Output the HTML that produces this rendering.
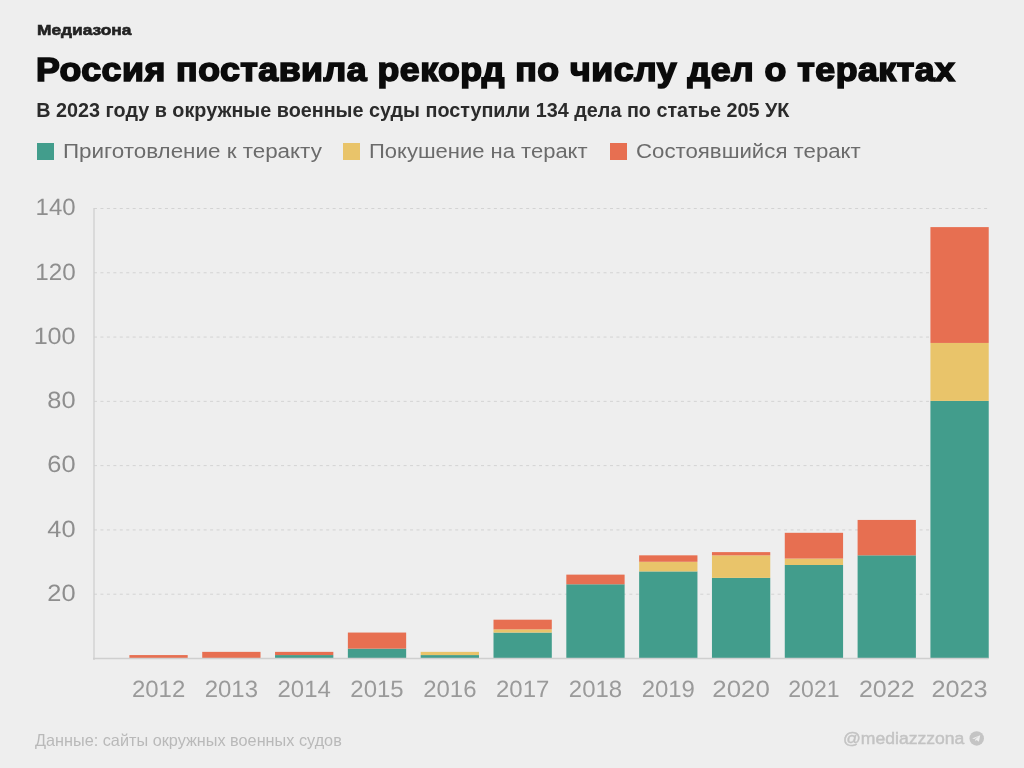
<!DOCTYPE html>
<html lang="ru"><head><meta charset="utf-8"><title>Медиазона</title>
<style>
html,body{margin:0;padding:0;}
body{width:1024px;height:768px;background:#eeeeee;position:relative;overflow:hidden;font-family:"Liberation Sans",sans-serif;}
.abs{position:absolute;white-space:nowrap;line-height:1;transform-origin:0 50%;}
#brand{left:36.9px;top:21.88px;font-size:15.5px;transform:scaleX(1.118);letter-spacing:0px;font-weight:700;color:#222;-webkit-text-stroke:0.6px #222;}
#title{left:36.0px;top:52.70px;font-size:33.2px;transform:scaleX(1.0762);letter-spacing:0.45px;font-weight:700;color:#0b0b0b;-webkit-text-stroke:1.6px #0b0b0b;}
#sub{left:36.3px;top:101.14px;font-size:19.8px;transform:scaleX(1.0);letter-spacing:0px;font-weight:700;color:#2b2b2b;}
.lg{color:#6b6b6b;}
#l1{left:62.8px;top:141.47px;font-size:20px;transform:scaleX(1.12);letter-spacing:0px;}
#l2{left:369px;top:141.47px;font-size:20px;transform:scaleX(1.1);letter-spacing:0px;}
#l3{left:635.6px;top:141.47px;font-size:20px;transform:scaleX(1.111);letter-spacing:0px;}
.sq{position:absolute;top:143px;width:17px;height:17px;}
#src{left:35px;top:731.93px;font-size:16.5px;transform:scaleX(0.985);letter-spacing:0px;color:#b9b9b9;}
#tg{left:843.4px;top:730.59px;font-size:16.9px;transform:scaleX(1.04);letter-spacing:0px;color:#c3c3c3;-webkit-text-stroke:0.45px #c3c3c3;}
svg{position:absolute;left:0;top:0;}
.ax{text-rendering:geometricPrecision;font-family:"Liberation Sans",sans-serif;font-size:23.5px;fill:#8e8e8e;}
.xl{fill:#9a9a9a;}
</style></head><body>
<svg width="1024" height="768" viewBox="0 0 1024 768">
<line x1="94" y1="594.21" x2="988" y2="594.21" stroke="#d3d3d3" stroke-width="1" stroke-dasharray="3 3.45"/>
<line x1="94" y1="529.93" x2="988" y2="529.93" stroke="#d3d3d3" stroke-width="1" stroke-dasharray="3 3.45"/>
<line x1="94" y1="465.64" x2="988" y2="465.64" stroke="#d3d3d3" stroke-width="1" stroke-dasharray="3 3.45"/>
<line x1="94" y1="401.36" x2="988" y2="401.36" stroke="#d3d3d3" stroke-width="1" stroke-dasharray="3 3.45"/>
<line x1="94" y1="337.07" x2="988" y2="337.07" stroke="#d3d3d3" stroke-width="1" stroke-dasharray="3 3.45"/>
<line x1="94" y1="272.79" x2="988" y2="272.79" stroke="#d3d3d3" stroke-width="1" stroke-dasharray="3 3.45"/>
<line x1="94" y1="208.50" x2="988" y2="208.50" stroke="#d3d3d3" stroke-width="1" stroke-dasharray="3 3.45"/>
<rect x="129.40" y="655.08" width="58.3" height="3.22" fill="#e76f51"/>
<rect x="202.22" y="651.86" width="58.3" height="6.44" fill="#e76f51"/>
<rect x="275.04" y="655.08" width="58.3" height="3.22" fill="#429d8c"/>
<rect x="275.04" y="651.86" width="58.3" height="3.22" fill="#e76f51"/>
<rect x="347.86" y="648.65" width="58.3" height="9.65" fill="#429d8c"/>
<rect x="347.86" y="632.56" width="58.3" height="16.09" fill="#e76f51"/>
<rect x="420.68" y="655.08" width="58.3" height="3.22" fill="#429d8c"/>
<rect x="420.68" y="651.86" width="58.3" height="3.22" fill="#e9c46a"/>
<rect x="493.50" y="632.56" width="58.3" height="25.74" fill="#429d8c"/>
<rect x="493.50" y="629.34" width="58.3" height="3.22" fill="#e9c46a"/>
<rect x="493.50" y="619.69" width="58.3" height="9.65" fill="#e76f51"/>
<rect x="566.32" y="584.29" width="58.3" height="74.01" fill="#429d8c"/>
<rect x="566.32" y="574.63" width="58.3" height="9.65" fill="#e76f51"/>
<rect x="639.14" y="571.42" width="58.3" height="86.88" fill="#429d8c"/>
<rect x="639.14" y="561.76" width="58.3" height="9.65" fill="#e9c46a"/>
<rect x="639.14" y="555.33" width="58.3" height="6.44" fill="#e76f51"/>
<rect x="711.96" y="577.85" width="58.3" height="80.45" fill="#429d8c"/>
<rect x="711.96" y="555.33" width="58.3" height="22.53" fill="#e9c46a"/>
<rect x="711.96" y="552.11" width="58.3" height="3.22" fill="#e76f51"/>
<rect x="784.78" y="564.98" width="58.3" height="93.32" fill="#429d8c"/>
<rect x="784.78" y="558.55" width="58.3" height="6.44" fill="#e9c46a"/>
<rect x="784.78" y="532.80" width="58.3" height="25.74" fill="#e76f51"/>
<rect x="857.60" y="555.33" width="58.3" height="102.97" fill="#429d8c"/>
<rect x="857.60" y="519.93" width="58.3" height="35.40" fill="#e76f51"/>
<rect x="930.42" y="400.87" width="58.3" height="257.43" fill="#429d8c"/>
<rect x="930.42" y="342.95" width="58.3" height="57.92" fill="#e9c46a"/>
<rect x="930.42" y="227.10" width="58.3" height="115.84" fill="#e76f51"/>
<line x1="94" y1="208" x2="94" y2="660" stroke="#cfcfcf" stroke-width="1.3"/>
<line x1="93" y1="658.5" x2="988.5" y2="658.5" stroke="#cfcfcf" stroke-width="1.3"/>
<text transform="translate(75.6,601.01) scale(1.08,1)" text-anchor="end" class="ax">20</text>
<text transform="translate(75.6,536.73) scale(1.08,1)" text-anchor="end" class="ax">40</text>
<text transform="translate(75.6,472.44) scale(1.08,1)" text-anchor="end" class="ax">60</text>
<text transform="translate(75.6,408.16) scale(1.08,1)" text-anchor="end" class="ax">80</text>
<text transform="translate(75.6,343.87) scale(1.07,1)" text-anchor="end" class="ax">100</text>
<text transform="translate(75.6,279.59) scale(1.03,1)" text-anchor="end" class="ax">120</text>
<text transform="translate(75.6,215.30) scale(1.02,1)" text-anchor="end" class="ax">140</text>
<text transform="translate(158.55,697.2) scale(1.02,1)" text-anchor="middle" class="ax xl">2012</text>
<text transform="translate(231.37,697.2) scale(1.02,1)" text-anchor="middle" class="ax xl">2013</text>
<text transform="translate(304.19,697.2) scale(1.02,1)" text-anchor="middle" class="ax xl">2014</text>
<text transform="translate(377.01,697.2) scale(1.02,1)" text-anchor="middle" class="ax xl">2015</text>
<text transform="translate(449.83,697.2) scale(1.02,1)" text-anchor="middle" class="ax xl">2016</text>
<text transform="translate(522.65,697.2) scale(1.02,1)" text-anchor="middle" class="ax xl">2017</text>
<text transform="translate(595.47,697.2) scale(1.02,1)" text-anchor="middle" class="ax xl">2018</text>
<text transform="translate(668.29,697.2) scale(1.02,1)" text-anchor="middle" class="ax xl">2019</text>
<text transform="translate(741.11,697.2) scale(1.1,1)" text-anchor="middle" class="ax xl">2020</text>
<text transform="translate(813.93,697.2) scale(0.98,1)" text-anchor="middle" class="ax xl">2021</text>
<text transform="translate(886.75,697.2) scale(1.065,1)" text-anchor="middle" class="ax xl">2022</text>
<text transform="translate(959.57,697.2) scale(1.075,1)" text-anchor="middle" class="ax xl">2023</text>
<g transform="translate(976.7,738.4)"><circle r="7.25" fill="#c4c4c4"/><path d="M-4.6 0 L3.5 -3.2 L2.2 3.4 L-0.1 1.7 L-1.3 2.9 L-1.4 0.9 L2.1 -2.2 L-2.4 0.7 Z" fill="#eeeeee"/></g>
</svg>
<div id="brand" class="abs">Медиазона</div>
<div id="title" class="abs">Россия поставила рекорд по числу дел о терактах</div>
<div id="sub" class="abs">В 2023 году в окружные военные суды поступили 134 дела по статье 205 УК</div>
<div class="sq" style="left:37.3px;background:#429d8c"></div><div id="l1" class="abs lg">Приготовление к теракту</div>
<div class="sq" style="left:343.3px;background:#e9c46a"></div><div id="l2" class="abs lg">Покушение на теракт</div>
<div class="sq" style="left:610px;background:#e76f51"></div><div id="l3" class="abs lg">Состоявшийся теракт</div>
<div id="src" class="abs">Данные: сайты окружных военных судов</div>
<div id="tg" class="abs">@mediazzzona</div>
</body></html>
